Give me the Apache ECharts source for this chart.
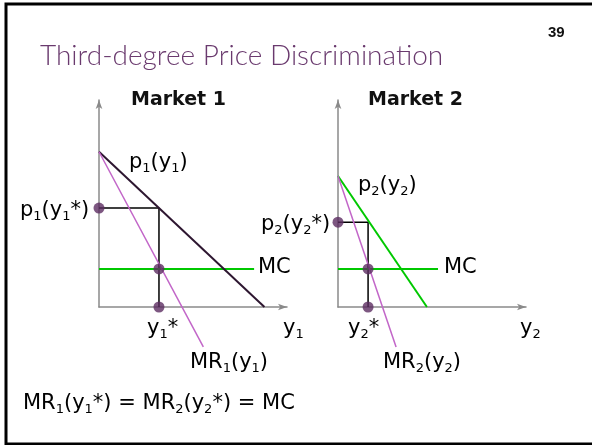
<!DOCTYPE html>
<html>
<head>
<meta charset="utf-8">
<script src="https://cdn.jsdelivr.net/npm/echarts@6/dist/echarts.min.js"></script>
<style>
  html, body { margin: 0; padding: 0; background: #fff; }
  #chart { width: 592px; height: 445px; }
</style>
</head>
<body>
<div id="chart"></div>
<script>
// market 1 (quantity y1, price p1) in plot units
const M1_DEMAND = [[0, 7.5], [8.8, 0]];
const M1_MR = [[0, 7.5], [5.55, -1.93]];
const M1_MC = [[0, 1.84], [8.25, 1.84]];
const M1_OPT = [[0, 4.78], [3.19, 4.78], [3.19, 0]];
const M1_DOTS = [[0, 4.78], [3.19, 1.84], [3.19, 0]];

// market 2
const M2_DEMAND = [[0, 6.33], [4.73, 0]];
const M2_MR = [[0, 6.33], [3.09, -1.93]];
const M2_MC = [[0, 1.84], [5.32, 1.84]];
const M2_OPT = [[0, 4.1], [1.6, 4.1], [1.6, 0]];
const M2_DOTS = [[0, 4.1], [1.6, 1.84], [1.6, 0]];

const PURPLE_DARK = '#3b1f3f';
const DOT = '#5c2d62';
const GREEN = '#00c800';
const VIOLET = '#c266c8';
const AXIS = '#8a8a8a';
const LABEL_FONT = '"DejaVu Sans", Verdana, sans-serif';

const rich = (color, size) => ({
  n: { fontSize: size, color: color, fontFamily: LABEL_FONT, lineHeight: size + 4, verticalAlign: 'bottom' },
  s: { fontSize: Math.round(size * 0.62), color: color, fontFamily: LABEL_FONT, lineHeight: size + 4, verticalAlign: 'bottom', padding: [0, 0, -2, 0] }
});

function label(x, y, text, color, size) {
  return {
    type: 'text', left: x, top: y,
    style: { text: text, rich: rich(color, size || 21) }
  };
}

function axisPair(idx) {
  return {
    gridIndex: idx, type: 'value', min: 0, max: 10,
    axisLine: { show: true, lineStyle: { color: AXIS, width: 1.5 }, symbol: ['none', 'arrow'], symbolSize: [5, 9] },
    axisTick: { show: false }, axisLabel: { show: false }, splitLine: { show: false }
  };
}

function line(idx, data, color, width) {
  return {
    type: 'line', xAxisIndex: idx, yAxisIndex: idx, data: data,
    symbol: 'none', clip: false, silent: true,
    lineStyle: { color: color, width: width }, z: 3
  };
}

function dots(idx, data) {
  return {
    type: 'scatter', xAxisIndex: idx, yAxisIndex: idx, data: data,
    symbolSize: 11, clip: false, itemStyle: { color: DOT }, z: 5
  };
}

const chart = echarts.init(document.getElementById('chart'));
chart.setOption({
  animation: false,
  grid: [
    { left: 99, top: 100, width: 188, height: 207 },
    { left: 338, top: 100, width: 188, height: 207 }
  ],
  xAxis: [axisPair(0), axisPair(1)],
  yAxis: [axisPair(0), axisPair(1)],
  series: [
    line(0, M1_OPT, '#000', 1.5),
    line(0, M1_MC, GREEN, 2),
    line(0, M1_DEMAND, '#2d1630', 2),
    line(0, M1_MR, VIOLET, 1.5),
    dots(0, M1_DOTS),
    line(1, M2_OPT, '#000', 1.5),
    line(1, M2_MC, GREEN, 2),
    line(1, M2_DEMAND, GREEN, 2),
    line(1, M2_MR, VIOLET, 1.5),
    dots(1, M2_DOTS)
  ],
  graphic: [
    { type: 'rect', shape: { x: 6, y: 4, width: 600, height: 440 }, style: { fill: 'none', stroke: '#000', lineWidth: 3 }, z: 0 },
    { type: 'text', left: 40, top: 42, style: { text: 'Third-degree Price Discrimination', font: '300 28px Lato, "Open Sans", sans-serif', fill: '#6a3a6e' } },
    { type: 'text', left: 548, top: 25, style: { text: '39', font: 'bold 15px "Liberation Sans", Arial, sans-serif', fill: '#111' } },
    { type: 'text', left: 131, top: 91, style: { text: 'Market 1', font: 'bold 19px "DejaVu Sans", Verdana, sans-serif', fill: '#111' } },
    { type: 'text', left: 368, top: 91, style: { text: 'Market 2', font: 'bold 19px "DejaVu Sans", Verdana, sans-serif', fill: '#111' } },
    label(129, 152, '{n|p}{s|1}{n|(y}{s|1}{n|)}', PURPLE_DARK),
    label(20, 200, '{n|p}{s|1}{n|(y}{s|1}{n|*)}', '#111'),
    label(258, 257, '{n|MC}', GREEN),
    label(147, 318, '{n|y}{s|1}{n|*}', '#111'),
    label(283, 318, '{n|y}{s|1}', '#111'),
    label(190, 352, '{n|MR}{s|1}{n|(y}{s|1}{n|)}', VIOLET),
    label(358, 175, '{n|p}{s|2}{n|(y}{s|2}{n|)}', PURPLE_DARK),
    label(261, 214, '{n|p}{s|2}{n|(y}{s|2}{n|*)}', '#111'),
    label(444, 257, '{n|MC}', GREEN),
    label(348, 318, '{n|y}{s|2}{n|*}', '#111'),
    label(520, 318, '{n|y}{s|2}', '#111'),
    label(383, 352, '{n|MR}{s|2}{n|(y}{s|2}{n|)}', VIOLET),
    label(23, 393, '{n|MR}{s|1}{n|(y}{s|1}{n|*) = MR}{s|2}{n|(y}{s|2}{n|*) = MC}', '#111', 21)
  ]
});
</script>
</body>
</html>
